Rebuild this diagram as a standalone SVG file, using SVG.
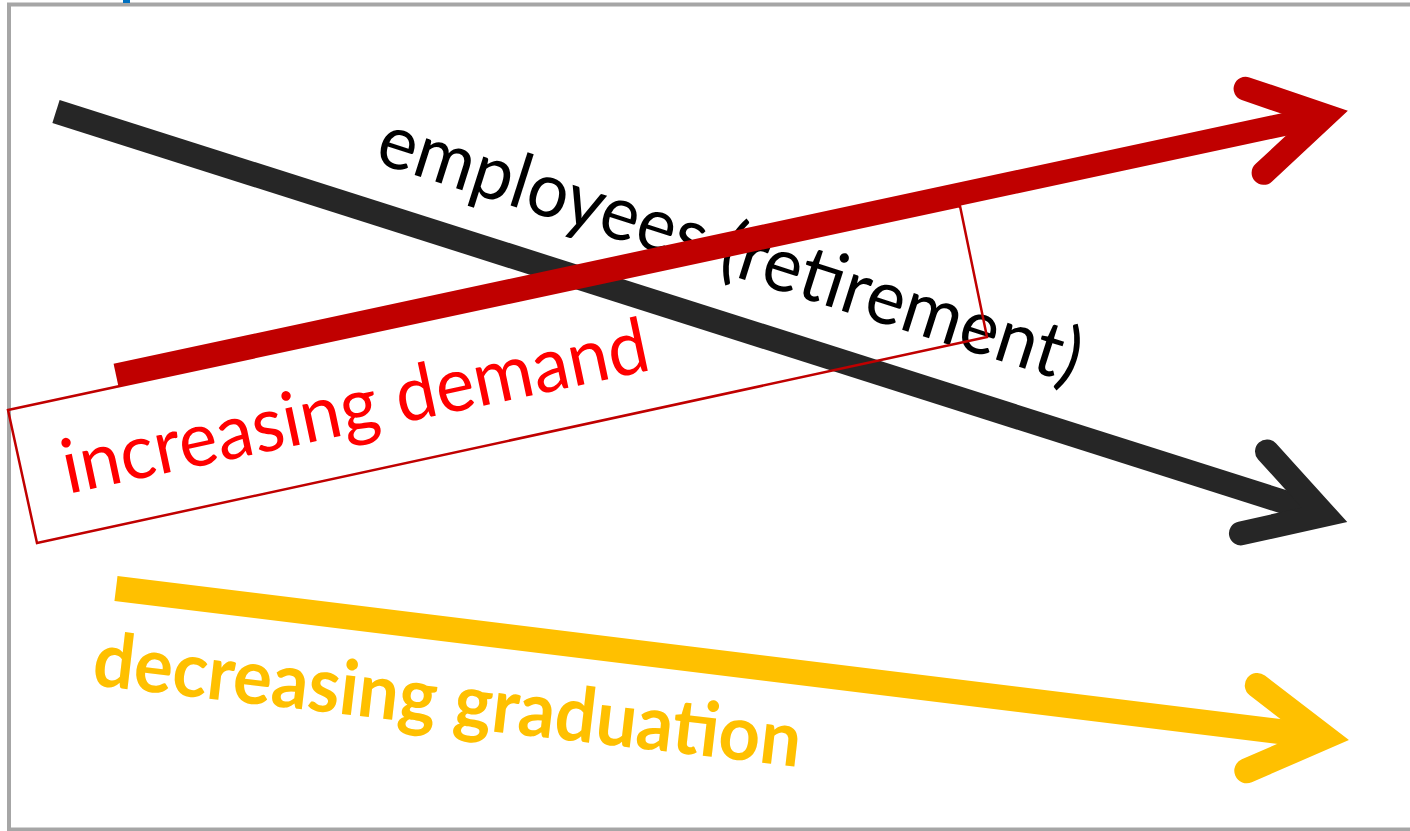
<svg xmlns="http://www.w3.org/2000/svg" width="1410" height="831" viewBox="0 0 1410 831">
  <style>
    .shaft { fill: none; stroke-linecap: butt; }
    .lbl { font-family: Lato, "Open Sans", "Liberation Sans", sans-serif; font-size: 76px; }
    .head { fill: none; stroke-linecap: round; stroke-linejoin: miter; stroke-miterlimit: 10; }
  </style>
  <defs>
    <marker id="mRed" markerUnits="userSpaceOnUse" orient="auto" refX="0" refY="0" markerWidth="1" markerHeight="1" style="overflow:visible">
      <path class="head" d="M-72,-43 L0,0 L-72,43" stroke="#C00000" stroke-width="24"/>
    </marker>
    <marker id="mBlack" markerUnits="userSpaceOnUse" orient="auto" refX="0" refY="0" markerWidth="1" markerHeight="1" style="overflow:visible">
      <path class="head" d="M-74,-43 L0,0 L-74,43" stroke="#262626" stroke-width="24"/>
    </marker>
    <marker id="mYellow" markerUnits="userSpaceOnUse" orient="auto" refX="0" refY="0" markerWidth="1" markerHeight="1" style="overflow:visible">
      <path class="head" d="M-73,-43 L0,0 L-73,43" stroke="#FFC000" stroke-width="25"/>
    </marker>
  </defs>

  <rect width="1410" height="831" fill="#FFFFFF"/>
  <g id="frame">
    <rect x="9" y="4.5" width="1420" height="825" fill="none" stroke="#A6A6A6" stroke-width="4"/>
    <rect x="123" y="0" width="7" height="3" fill="#0070C0"/>
  </g>

  <g id="connectors">
    <path id="arrow-employees" class="shaft" d="M56,111.5 L1324.5,514.8" stroke="#262626" stroke-width="24" marker-end="url(#mBlack)"/>
    <path id="arrow-graduation" class="shaft" d="M116,588.5 L1324.5,737" stroke="#FFC000" stroke-width="25" marker-end="url(#mYellow)"/>
  </g>

  <g id="label-employees">
    <text class="lbl" fill="#000000" transform="translate(373,162) rotate(17.6)" textLength="734" lengthAdjust="spacingAndGlyphs">employees (retirement)</text>
  </g>

  <g id="box-demand">
    <polygon points="8,410 960,206 987,337 37,543" fill="none" stroke="#C00000" stroke-width="2.5"/>
  </g>

  <g id="connectors-top">
    <path id="arrow-demand" class="shaft" d="M116,375 L1325,115.7" stroke="#C00000" stroke-width="23" marker-end="url(#mRed)"/>
  </g>

  <g id="label-demand">
    <text class="lbl" fill="#FF0000" transform="translate(68,494) rotate(-12)" textLength="598" lengthAdjust="spacingAndGlyphs">increasing demand</text>
  </g>

  <g id="label-graduation">
    <text class="lbl" fill="#FFC000" font-weight="bold" transform="translate(91,685) rotate(6.6)" textLength="712" lengthAdjust="spacingAndGlyphs">decreasing graduation</text>
  </g>
</svg>
